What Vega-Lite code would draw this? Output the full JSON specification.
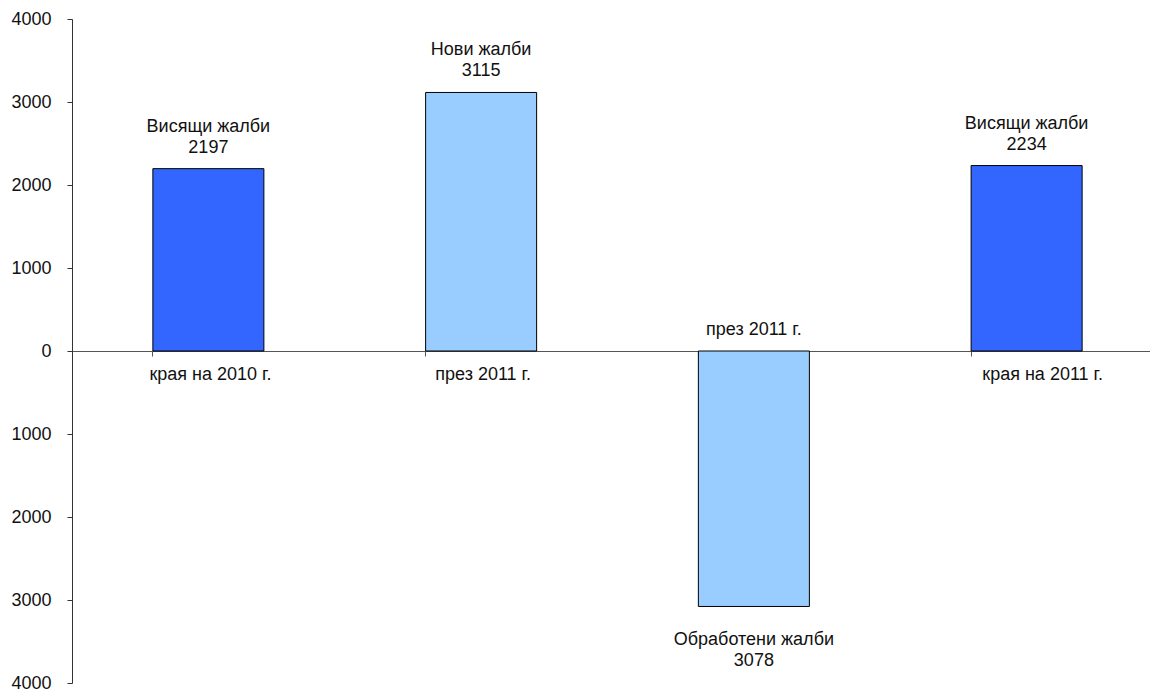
{
  "$schema": "https://vega.github.io/schema/vega-lite/v6.json",
  "width": 1078,
  "height": 664,
  "autosize": "none",
  "padding": {"left": 72, "top": 19, "right": 0, "bottom": 8},
  "background": "white",
  "config": {"view": {"stroke": null}, "font": "Liberation Sans"},
  "data": {"values": [
    {"cat": "c1", "label": "края на 2010 г.", "name": "Висящи жалби", "v": 2197, "num": "2197", "kind": "dark"},
    {"cat": "c2", "label": "през 2011 г.", "name": "Нови жалби", "v": 3115, "num": "3115", "kind": "light"},
    {"cat": "c3", "label": "през 2011 г.", "name": "Обработени жалби", "v": -3078, "num": "3078", "kind": "light"},
    {"cat": "c4", "label": "края на 2011 г.", "name": "Висящи жалби", "v": 2234, "num": "2234", "kind": "dark"}
  ]},
  "encoding": {
    "x": {"field": "cat", "type": "nominal", "sort": null,
      "scale": {"paddingInner": 0.593, "paddingOuter": 0.2965, "range": [0, 1091]},
      "axis": {"orient": "bottom", "offset": -332, "labels": false, "title": null, "bandPosition": 0, "tickExtra": true, "tickSize": 5, "domainColor": "#555555", "tickColor": "#555555"}},
    "y": {"field": "v", "type": "quantitative",
      "scale": {"domain": [-4000, 4000], "nice": false, "zero": false},
      "axis": {"values": [-4000, -3000, -2000, -1000, 0, 1000, 2000, 3000, 4000], "labelExpr": "format(abs(datum.value), 'd')", "grid": false, "title": null, "tickSize": 5, "labelFontSize": 18, "labelPadding": 16, "labelColor": "#111111", "domainColor": "#333333", "tickColor": "#333333"}}
  },
  "layer": [
    {"mark": {"type": "bar", "stroke": "black", "strokeWidth": 1},
      "encoding": {"color": {"field": "kind", "type": "nominal", "scale": {"domain": ["dark", "light"], "range": ["#3366FF", "#99CCFF"]}, "legend": null}}},
    {"transform": [{"filter": "datum.v > 0"}], "mark": {"type": "text", "baseline": "middle", "dy": -21, "fontSize": 18, "color": "#111111"}, "encoding": {"text": {"field": "num"}}},
    {"transform": [{"filter": "datum.v > 0"}], "mark": {"type": "text", "baseline": "middle", "dy": -42, "fontSize": 18, "color": "#111111"}, "encoding": {"text": {"field": "name"}}},
    {"transform": [{"filter": "datum.v < 0"}], "mark": {"type": "text", "baseline": "middle", "dy": 55, "fontSize": 18, "color": "#111111"}, "encoding": {"text": {"field": "num"}}},
    {"transform": [{"filter": "datum.v < 0"}], "mark": {"type": "text", "baseline": "middle", "dy": 34, "fontSize": 18, "color": "#111111"}, "encoding": {"text": {"field": "name"}}},
    {"transform": [{"filter": "datum.v > 0 && datum.cat != 'c4'"}], "mark": {"type": "text", "baseline": "middle", "dy": 24, "dx": 2, "fontSize": 18, "color": "#111111"}, "encoding": {"text": {"field": "label"}, "y": {"datum": 0}}},
    {"transform": [{"filter": "datum.cat == 'c4'"}], "mark": {"type": "text", "baseline": "middle", "dy": 24, "dx": 16, "fontSize": 18, "color": "#111111"}, "encoding": {"text": {"field": "label"}, "y": {"datum": 0}}},
    {"transform": [{"filter": "datum.v < 0"}], "mark": {"type": "text", "baseline": "middle", "dy": -21, "fontSize": 18, "color": "#111111"}, "encoding": {"text": {"field": "label"}, "y": {"datum": 0}}}
  ]
}
